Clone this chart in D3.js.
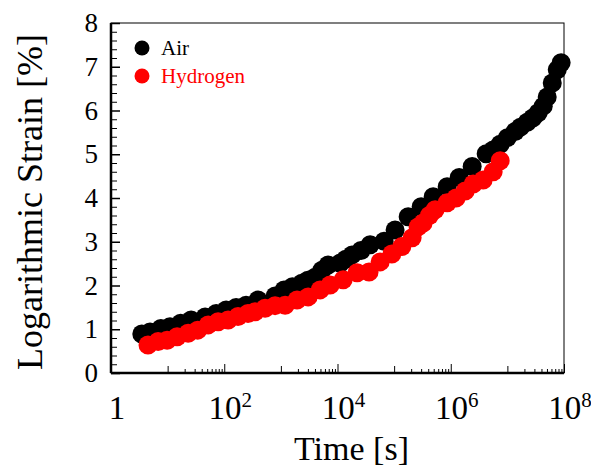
<!DOCTYPE html>
<html>
<head>
<meta charset="utf-8">
<script src="https://cdn.jsdelivr.net/npm/d3@7"></script>
<style>
  body { margin: 0; background: #fff; }
  svg text { font-family: "Liberation Serif", "Times New Roman", serif; }
</style>
</head>
<body>
<div id="chart"></div>
<script>
"use strict";

// data: time [s] and logarithmic strain [%]
const airTime = [3.5, 4.9, 7.6, 11, 17, 26, 46, 72, 108, 162, 243, 395, 790, 1140, 1600, 2340, 3000,
  4020, 5300, 6820, 11100, 14000, 18100, 26000, 37700, 66600, 104000, 177000, 300000, 489000, 864000,
  1.41e6, 2.39e6, 4.22e6, 5.6e6, 7.46e6, 1.0e7, 1.37e7, 1.7e7, 2.24e7, 2.8e7, 3.5e7, 4.3e7, 5.05e7,
  6.2e7, 7.6e7, 8.9e7];
const airStrain = [0.89, 0.94, 1.02, 1.06, 1.14, 1.21, 1.28, 1.36, 1.44, 1.50, 1.55, 1.67, 1.76, 1.90,
  1.97, 2.05, 2.12, 2.19, 2.35, 2.47, 2.51, 2.60, 2.70, 2.80, 2.93, 3.01, 3.27, 3.57, 3.80, 4.03, 4.26,
  4.47, 4.72, 5.01, 5.10, 5.23, 5.38, 5.52, 5.62, 5.73, 5.83, 5.95, 6.10, 6.31, 6.63, 6.93, 7.09];

const h2Time = [4.5, 6.8, 9.8, 14.7, 23, 34, 52, 78, 117, 175, 263, 350, 526, 790, 1190, 1930, 3030,
  4930, 7400, 12600, 22200, 36100, 56600, 91100, 137000, 208000, 265000, 325000, 420000, 530000,
  864000, 1.24e6, 1.8e6, 2.49e6, 3.73e6, 5.61e6, 7.46e6];
const h2Strain = [0.64, 0.72, 0.75, 0.83, 0.91, 0.98, 1.10, 1.17, 1.21, 1.29, 1.36, 1.40, 1.48, 1.54,
  1.55, 1.67, 1.74, 1.90, 2.01, 2.13, 2.29, 2.31, 2.54, 2.72, 2.89, 3.09, 3.34, 3.43, 3.60, 3.73, 3.89,
  4.00, 4.16, 4.32, 4.41, 4.60, 4.85];

const seriesNames = ["Air", "Hydrogen"];
const seriesColors = ["#000000", "#ff0000"];

const xLabelExp = [null, 2, 4, 6, 8];   // labels: 1, 10^2, 10^4 ...
const yTicks = [0, 1, 2, 3, 4, 5, 6, 7, 8];

const W = 591, H = 467;
const margin = {top: 23, right: 27, bottom: 94, left: 111};
const width = W - margin.left - margin.right;
const height = H - margin.top - margin.bottom;

const svg = d3.select("#chart").append("svg")
    .attr("width", W)
    .attr("height", H);

const g = svg.append("g")
    .attr("transform", `translate(${margin.left},${margin.top})`);

const x = d3.scaleLog().domain([1, 1e8]).range([0, width]);
const y = d3.scaleLinear().domain([0, 8]).range([height, 0]);

// x ticks: minor ones only in the odd decades, like the original
const xMinor = [], xMajorOdd = [], xMajorEven = [1, 1e2, 1e4, 1e6, 1e8];
[1, 3, 5, 7].forEach(k => {
  xMajorOdd.push(Math.pow(10, k));
  for (let d = 2; d <= 9; d++) xMinor.push(d * Math.pow(10, k));
});

const tickAxis = function(gen, vals, size){
  const a = g.append("g")
      .attr("transform", `translate(0,${height})`)
      .call(gen(x).tickValues(vals).tickSize(-size).tickFormat(""));
  a.select(".domain").remove();
  a.selectAll("line").attr("stroke", "#000").attr("stroke-width", 1);
};
tickAxis(d3.axisBottom, xMinor, 4);
tickAxis(d3.axisBottom, xMajorOdd, 7);
tickAxis(d3.axisBottom, xMajorEven, 9);

// y ticks
const yMinor = d3.range(0, 8.001, 0.2).filter(v => Math.abs(v - Math.round(v)) > 0.01);
const yMin = g.append("g").call(d3.axisLeft(y).tickValues(yMinor).tickSize(-6).tickFormat(""));
yMin.select(".domain").remove();

const yAx = g.append("g")
    .call(d3.axisLeft(y).tickValues(yTicks).tickSize(-9).tickPadding(13).tickFormat(d3.format("d")));
yAx.select(".domain").remove();
yAx.selectAll("line").attr("stroke-width", 1.5);
yAx.selectAll("text")
    .style("font-size", "27px")
    .attr("fill", "#000");

// x tick labels with superscripts
const xl = g.selectAll(".xlab")
    .data(xMajorEven)
    .enter().append("text")
    .attr("class", "xlab")
    .attr("x", d => x(d) + 6)
    .attr("y", height + 46)
    .attr("text-anchor", "middle")
    .style("font-size", "33px");
xl.each(function(d, i){
  const t = d3.select(this);
  if (xLabelExp[i] === null) { t.text("1"); return; }
  t.append("tspan").text("10");
  t.append("tspan").attr("dy", -12).style("font-size", "21px").text(xLabelExp[i]);
});

// frame
g.append("rect")
    .attr("width", width).attr("height", height)
    .attr("fill", "none").attr("stroke", "#000").attr("stroke-width", 1);
g.append("line").attr("x1", 0).attr("x2", 0).attr("y1", 0).attr("y2", height)
    .attr("stroke", "#000").attr("stroke-width", 2.5);
g.append("line").attr("x1", 0).attr("x2", width).attr("y1", height).attr("y2", height)
    .attr("stroke", "#000").attr("stroke-width", 2.5);

// points
const series = [
  {name: seriesNames[0], color: seriesColors[0], t: airTime, v: airStrain},
  {name: seriesNames[1], color: seriesColors[1], t: h2Time, v: h2Strain}
];
series.forEach(s => {
  g.append("g").selectAll("circle")
      .data(s.t.map((t, i) => ({t: t, v: s.v[i]})))
      .enter().append("circle")
      .attr("cx", d => x(d.t))
      .attr("cy", d => y(d.v))
      .attr("r", 9.5)
      .attr("fill", s.color);
});

// legend
const leg = g.selectAll(".leg")
    .data(series)
    .enter().append("g")
    .attr("class", "leg")
    .attr("transform", (d, i) => `translate(${31},${25 + i * 28})`);
leg.append("circle").attr("r", 7.5).attr("fill", d => d.color);
leg.append("text")
    .attr("x", 19).attr("y", 7)
    .style("font-size", "21px")
    .attr("fill", d => d.color)
    .text(d => d.name);

// axis titles
svg.append("text")
    .attr("x", margin.left + width / 2 + 14)
    .attr("y", H - 7)
    .attr("text-anchor", "middle")
    .style("font-size", "34px")
    .text("Time [s]");

svg.append("text")
    .attr("transform", `translate(42,${margin.top + height / 2 + 4}) rotate(-90)`)
    .attr("text-anchor", "middle")
    .style("font-size", "36px")
    .text("Logarithmic Strain [%]");
</script>
</body>
</html>
